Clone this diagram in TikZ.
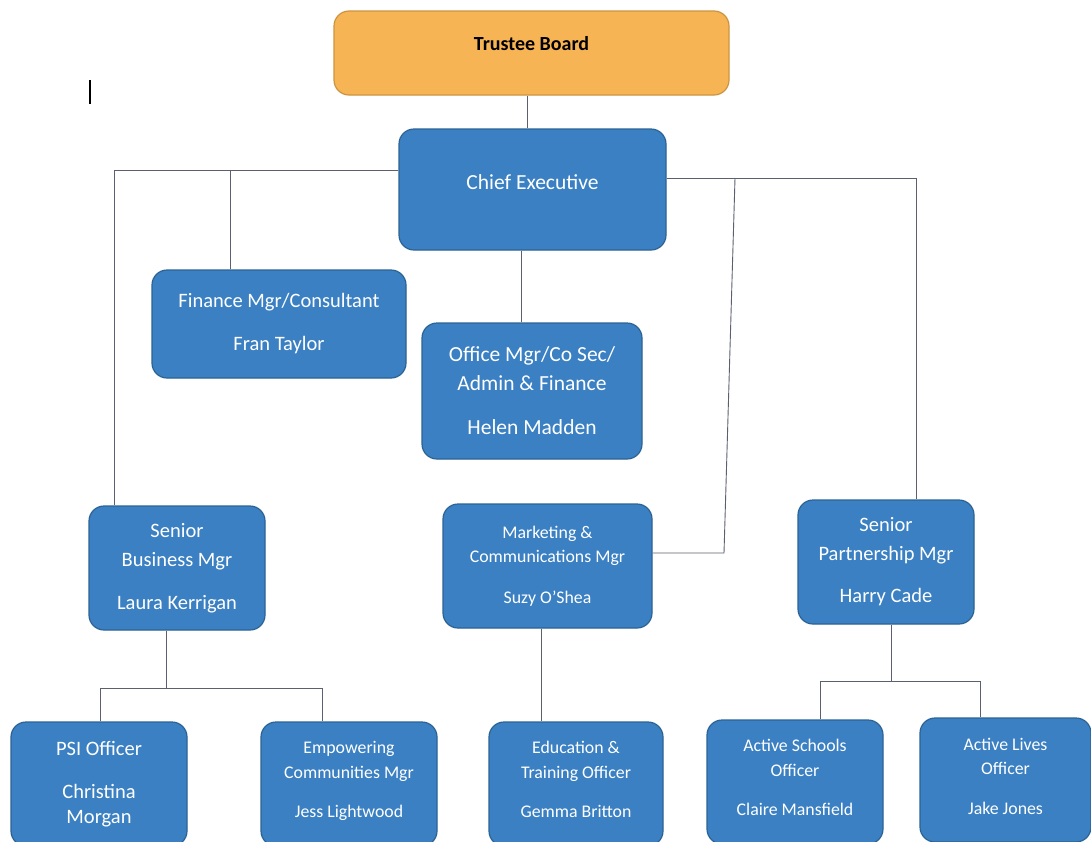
\documentclass[tikz,border=0pt]{standalone}
\usepackage{fontspec}
\setmainfont{Carlito}
\definecolor{boxblue}{HTML}{3A80C2}
\definecolor{boxedge}{HTML}{2C6395}
\definecolor{boardorange}{HTML}{F7B454}
\definecolor{boardedge}{HTML}{CC9440}
\definecolor{linkgray}{HTML}{5A6070}
\begin{document}
\begin{tikzpicture}[x=1pt,y=-1pt,
  box/.style={draw=boxedge, fill=boxblue, line width=1.2pt, rounded corners=15pt,
    text=white, align=center, inner sep=0pt},
  bigtext/.style={font=\fontsize{20.5}{29}\selectfont},
  smalltext/.style={font=\fontsize{17.8}{24.5}\selectfont},
  link/.style={draw=linkgray, line width=0.9pt},
]
\useasboundingbox (0,0) rectangle (1091,841);
\clip (0,0) rectangle (1091,841);
\fill[white] (0,0) rectangle (1091,841);

% boxes
\node[box, draw=boardedge, fill=boardorange, text=black, minimum width=395pt, minimum height=84pt,
  font=\fontsize{20}{24}\selectfont\bfseries, text height=12pt, text depth=18pt] (board) at (531.5,53) {Trustee Board};
\node[box, bigtext, font=\fontsize{21.5}{29}\selectfont, minimum width=267pt, minimum height=121pt, text height=13pt, text depth=14pt] (ceo) at (532.5,189.5) {Chief Executive};
\node[box, bigtext, minimum width=254pt, minimum height=108pt] (fin) at (279,324) {Finance Mgr/Consultant\\[14pt]Fran Taylor};
\node[box, bigtext, font=\fontsize{21.5}{29}\selectfont, minimum width=220pt, minimum height=136pt] (office) at (532,391) {Office Mgr/Co Sec/\\Admin \& Finance\\[15pt]Helen Madden};
\node[box, bigtext, minimum width=176pt, minimum height=124pt] (sbm) at (177,568) {Senior\\Business Mgr\\[14pt]Laura Kerrigan};
\node[box, smalltext, minimum width=209pt, minimum height=124pt] (mkt) at (547.5,566) {Marketing \&\\Communications Mgr\\[16pt]Suzy O’Shea};
\node[box, bigtext, minimum width=176pt, minimum height=124pt] (spm) at (886,562) {Senior\\Partnership Mgr\\[13pt]Harry Cade};
\node[box, bigtext, minimum width=176pt, minimum height=124pt] (psi) at (99,784) {PSI Officer\\[14pt]Christina\\[-4pt]Morgan};
\node[box, smalltext, minimum width=176pt, minimum height=124pt, text depth=9pt] (emp) at (349,784) {Empowering\\Communities Mgr\\[15pt]Jess Lightwood};
\node[box, smalltext, minimum width=174pt, minimum height=124pt, text depth=9pt] (edu) at (576,784) {Education \&\\Training Officer\\[15pt]Gemma Britton};
\node[box, smalltext, minimum width=176pt, minimum height=124pt, text depth=9pt] (act) at (795,782) {Active Schools\\Officer\\[15pt]Claire Mansfield};
\node[box, smalltext, minimum width=171pt, minimum height=124pt, text depth=8pt] (liv) at (1005.5,780) {Active Lives\\Officer\\[15pt]Jake Jones};

% connectors
\draw[link] (board.south -| 527,0) -- (ceo.north -| 527,0);
\draw[link] (ceo.west |- 0,170) -| (sbm.north -| 114,0);
\draw[link] (fin.north -| 230,0) -- (230,170);
\draw[link] (ceo.south -| 521,0) -- (office.north -| 521,0);
\draw[link] (ceo.east |- 0,178) -| (spm.north -| 916,0);
\draw[link] (735,178) -- (724,553) -- (mkt.east |- 0,553);
\draw[link] (sbm.south -| 166,0) -- (166,688);
\draw[link] (psi.north -| 100,0) -- (100,688) -- (322,688) -- (emp.north -| 322,0);
\draw[link] (mkt.south -| 541,0) -- (edu.north -| 541,0);
\draw[link] (spm.south -| 891,0) -- (891,681);
\draw[link] (act.north -| 820,0) -- (820,681) -- (980,681) -- (liv.north -| 980,0);

% stray text cursor
\draw[black, line width=2pt] (90,80) -- (90,104);
\end{tikzpicture}
\end{document}
